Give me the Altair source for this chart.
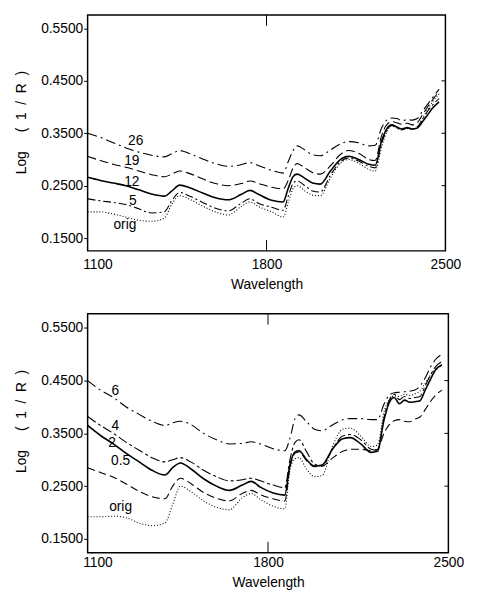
import altair as alt
import pandas as pd

FONT = "Liberation Sans"

# ---------------- data ----------------
WL = [1100, 1150, 1200, 1250, 1300, 1350, 1400, 1430, 1460, 1500, 1550, 1600,
      1650, 1700, 1735, 1770, 1820, 1865, 1885, 1905, 1920, 1950, 1980, 2010,
      2050, 2090, 2120, 2160, 2200, 2225, 2250, 2270, 2290, 2310, 2330, 2350,
      2370, 2390, 2410, 2430, 2450, 2475]

# upper panel
TOP_26 = [0.350, 0.342, 0.332, 0.322, 0.314, 0.308, 0.305, 0.311, 0.317, 0.311, 0.301, 0.292,
          0.287, 0.290, 0.294, 0.288, 0.279, 0.274, 0.296, 0.318, 0.326, 0.318, 0.309, 0.307,
          0.318, 0.330, 0.334, 0.332, 0.326, 0.327, 0.360, 0.375, 0.379, 0.378, 0.374, 0.376,
          0.375, 0.378, 0.392, 0.405, 0.418, 0.434]
TOP_19 = [0.306, 0.298, 0.291, 0.285, 0.278, 0.271, 0.267, 0.272, 0.278, 0.273, 0.263, 0.254,
          0.250, 0.254, 0.259, 0.254, 0.247, 0.244, 0.260, 0.285, 0.292, 0.284, 0.275, 0.272,
          0.288, 0.310, 0.317, 0.312, 0.300, 0.298, 0.345, 0.366, 0.372, 0.370, 0.367, 0.369,
          0.366, 0.370, 0.385, 0.400, 0.414, 0.430]
TOP_12 = [0.266, 0.260, 0.255, 0.250, 0.242, 0.234, 0.230, 0.240, 0.251, 0.246, 0.236, 0.227,
          0.223, 0.233, 0.241, 0.233, 0.222, 0.219, 0.245, 0.268, 0.272, 0.264, 0.255, 0.253,
          0.278, 0.300, 0.306, 0.300, 0.291, 0.289, 0.335, 0.358, 0.366, 0.362, 0.358, 0.361,
          0.358, 0.360, 0.372, 0.385, 0.398, 0.410]
TOP_5 = [0.225, 0.221, 0.218, 0.214, 0.206, 0.198, 0.200, 0.222, 0.237, 0.230, 0.218, 0.207,
         0.202, 0.216, 0.225, 0.216, 0.209, 0.203, 0.230, 0.255, 0.259, 0.250, 0.240, 0.238,
         0.270, 0.296, 0.303, 0.297, 0.287, 0.284, 0.330, 0.355, 0.365, 0.360, 0.357, 0.360,
         0.358, 0.362, 0.376, 0.392, 0.404, 0.416]
TOP_ORIG = [0.200, 0.200, 0.196, 0.190, 0.184, 0.182, 0.188, 0.215, 0.231, 0.224, 0.211, 0.200,
            0.194, 0.210, 0.219, 0.210, 0.200, 0.190, 0.218, 0.245, 0.250, 0.240, 0.232, 0.231,
            0.265, 0.293, 0.300, 0.293, 0.281, 0.278, 0.323, 0.352, 0.364, 0.360, 0.356, 0.359,
            0.357, 0.362, 0.378, 0.395, 0.410, 0.425]

# lower panel
BOT_6 = [0.450, 0.432, 0.418, 0.400, 0.386, 0.373, 0.365, 0.370, 0.373, 0.367, 0.350, 0.338,
         0.330, 0.331, 0.334, 0.330, 0.321, 0.317, 0.340, 0.378, 0.385, 0.372, 0.358, 0.355,
         0.366, 0.376, 0.378, 0.378, 0.376, 0.376, 0.405, 0.422, 0.427, 0.428, 0.429, 0.430,
         0.432, 0.440, 0.455, 0.475, 0.490, 0.500]
BOT_4 = [0.382, 0.365, 0.350, 0.333, 0.318, 0.304, 0.296, 0.300, 0.304, 0.296, 0.280, 0.268,
         0.260, 0.262, 0.265, 0.260, 0.252, 0.247, 0.300, 0.333, 0.338, 0.315, 0.292, 0.288,
         0.320, 0.345, 0.348, 0.338, 0.320, 0.318, 0.380, 0.412, 0.424, 0.414, 0.420, 0.416,
         0.418, 0.420, 0.440, 0.460, 0.476, 0.486]
BOT_2 = [0.365, 0.346, 0.330, 0.312, 0.296, 0.280, 0.271, 0.285, 0.294, 0.283, 0.264, 0.250,
         0.242, 0.252, 0.259, 0.248, 0.237, 0.233, 0.290, 0.315, 0.317, 0.300, 0.288, 0.290,
         0.320, 0.340, 0.342, 0.330, 0.314, 0.316, 0.375, 0.408, 0.418, 0.406, 0.413, 0.409,
         0.410, 0.412, 0.432, 0.452, 0.470, 0.480]
BOT_05 = [0.285, 0.276, 0.267, 0.254, 0.240, 0.230, 0.226, 0.250, 0.265, 0.255, 0.238, 0.227,
          0.222, 0.236, 0.242, 0.234, 0.226, 0.222, 0.285, 0.312, 0.315, 0.298, 0.287, 0.288,
          0.303, 0.316, 0.320, 0.320, 0.317, 0.320, 0.350, 0.366, 0.374, 0.376, 0.373, 0.372,
          0.377, 0.381, 0.395, 0.410, 0.422, 0.432]
BOT_ORIG = [0.192, 0.192, 0.193, 0.190, 0.180, 0.175, 0.180, 0.215, 0.250, 0.240, 0.222, 0.210,
            0.205, 0.228, 0.236, 0.225, 0.212, 0.207, 0.280, 0.302, 0.304, 0.282, 0.268, 0.270,
            0.325, 0.358, 0.360, 0.345, 0.325, 0.328, 0.390, 0.414, 0.421, 0.420, 0.424, 0.422,
            0.425, 0.430, 0.445, 0.460, 0.472, 0.478]

TOP_NAMES = ["26", "19", "12", "5", "orig"]
BOT_NAMES = ["6", "4", "2", "0.5", "orig"]

# curve labels (anchor in data units)
TOP_LABEL_WL = [1288, 1273, 1273, 1277, 1246]
TOP_LABEL_VAL = [0.3355, 0.296, 0.256, 0.221, 0.174]
BOT_LABEL_WL = [1208, 1208, 1195, 1228, 1228]
BOT_LABEL_VAL = [0.430, 0.363, 0.332, 0.298, 0.210]

X_TICKS = [1100, 1800, 2500]
Y_TICKS = [0.15, 0.25, 0.35, 0.45, 0.55]
Y_INNER_TICKS = [0.25, 0.35, 0.45]
X_INNER_TICKS = [1800]

# styles per curve: strokeDash (None = solid)
TOP_STYLES = [[10, 4, 2, 4], [9, 4], None, [8, 3, 2, 3], [1, 2]]
BOT_STYLES = [[10, 4, 2, 4], [10, 3, 3, 3], None, [8, 4], [1, 2]]

NB = "\u00a0"
Y_TITLE = "Log" + NB * 5 + "(" + NB * 2 + "1" + NB * 2 + "/" + NB * 2 + "R" + NB * 2 + ")"

X_DOM = [1100, 2500]


def panel(series, names, styles, lab_wl, lab_val, width, height, ydom,
          label_pad, xtitle_y, ytitle_y):
    xs = alt.Scale(domain=X_DOM, nice=False, zero=False)
    ys = alt.Scale(domain=ydom, nice=False, zero=False)
    xaxis = alt.Axis(values=X_TICKS, format="d", ticks=False, tickSize=0, domain=False,
                     grid=False, labelPadding=label_pad, labelBaseline="middle",
                     labelFlush=False,
                     labelFont=FONT, labelFontSize=14, labelColor="black",
                     labelOffset={"condition": {"test": "datum.value == 1100", "value": 10}, "value": 0},
                     title="Wavelength", titleFont=FONT, titleFontSize=14,
                     titleFontWeight="normal", titleColor="black",
                     titleY=xtitle_y, titleBaseline="middle")
    yaxis = alt.Axis(values=Y_TICKS, format=".4f", tickSize=4, tickColor="black",
                     tickWidth=1, domain=False, grid=False, labelPadding=1,
                     labelFlush=False,
                     labelFont=FONT, labelFontSize=14, labelColor="black",
                     title=Y_TITLE, titleFont=FONT, titleFontSize=14,
                     titleFontWeight="normal", titleColor="black",
                     titleX=-67, titleY=ytitle_y, titleBaseline="middle")
    X = alt.X("wl:Q", scale=xs, axis=xaxis)
    Y = alt.Y("val:Q", scale=ys, axis=yaxis)
    layers = []
    for vals, nm, st in zip(series, names, styles):
        df = pd.DataFrame({"wl": WL, "val": vals})
        kw = dict(color="black", strokeWidth=1.6 if st is None else 1.1, interpolate="monotone")
        if st is not None:
            kw["strokeDash"] = st
        layers.append(alt.Chart(df).mark_line(**kw).encode(x=X, y=Y))
    lab_df = pd.DataFrame({"wl": lab_wl, "val": lab_val, "lab": names})
    layers.append(alt.Chart(lab_df).mark_text(font=FONT, fontSize=14, color="black").encode(
        x=X, y=Y, text="lab:N"))

    # inward frame ticks (lengths: 4 px on the right, 11 px top/bottom)
    dx = 4 * (X_DOM[1] - X_DOM[0]) / width
    dy = 11 * (ydom[1] - ydom[0]) / height
    yt = pd.DataFrame({"val": Y_INNER_TICKS,
                       "wl": [X_DOM[1] - dx] * len(Y_INNER_TICKS),
                       "wl2": [X_DOM[1]] * len(Y_INNER_TICKS)})
    layers.append(alt.Chart(yt).mark_rule(color="black", strokeWidth=1).encode(
        x=X, x2="wl2:Q", y=Y))
    xt = pd.DataFrame({"wl": X_INNER_TICKS * 2,
                       "val": [ydom[1], ydom[0]],
                       "val2": [ydom[1] - dy, ydom[0] + dy]})
    layers.append(alt.Chart(xt).mark_rule(color="black", strokeWidth=1).encode(
        x=X, y=Y, y2="val2:Q"))
    return alt.layer(*layers).properties(width=width, height=height)


top = panel([TOP_26, TOP_19, TOP_12, TOP_5, TOP_ORIG], TOP_NAMES, TOP_STYLES,
            TOP_LABEL_WL, TOP_LABEL_VAL, 364, 240, [0.1256, 0.5757], 14, 34, 109)
bot = panel([BOT_6, BOT_4, BOT_2, BOT_05, BOT_ORIG], BOT_NAMES, BOT_STYLES,
            BOT_LABEL_WL, BOT_LABEL_VAL, 367, 243, [0.1239, 0.5767], 10, 30, 109)

chart = alt.vconcat(top, bot, spacing=20).properties(
    padding={"left": 6, "top": 0, "right": 5, "bottom": 0}
).configure(font=FONT, background="white").configure_view(stroke="black", strokeWidth=1.5)

chart.save("out.html", embed_options={"renderer": "svg", "actions": False})
